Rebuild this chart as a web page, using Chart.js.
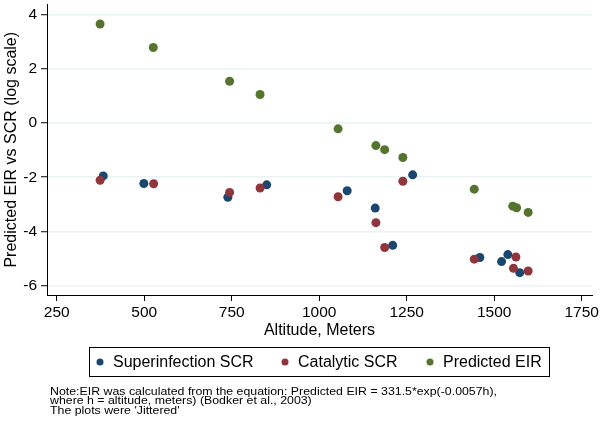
<!doctype html>
<html>

<head>
	<title>Predicted EIR vs SCR by altitude</title>
	<script src="https://cdn.jsdelivr.net/npm/chart.js@4.4.1/dist/chart.umd.min.js"></script>
	<style>
	body { margin: 0; background: #fff; }
	canvas { display: block; }
	</style>
</head>

<body>
	<canvas id="canvas" width="600" height="423"></canvas>
	<script>
		// altitude (m) and log-scale values
		const superAlt = [383, 499, 739, 850, 1080, 1160, 1210, 1267, 1459, 1521, 1539, 1573];
		const superVal = [-1.95, -2.23, -2.74, -2.28, -2.50, -3.14, -4.52, -1.91, -4.97, -5.12, -4.86, -5.53];

		const catAlt = [374, 527, 744, 831, 1054, 1162, 1187, 1239, 1443, 1555, 1562, 1597];
		const catVal = [-2.11, -2.24, -2.56, -2.40, -2.72, -3.68, -4.60, -2.15, -5.03, -5.37, -4.95, -5.47];

		const eirAlt = [374, 526, 744, 831, 1054, 1162, 1187, 1239, 1443, 1553, 1564, 1597];
		const eirVal = [3.67, 2.80, 1.55, 1.06, -0.21, -0.83, -0.98, -1.27, -2.44, -3.07, -3.13, -3.30];

		const xTicks = [250, 500, 750, 1000, 1250, 1500, 1750];
		const yTicks = [-6, -4, -2, 0, 2, 4];

		const seriesNames = ['Superinfection SCR', 'Catalytic SCR', 'Predicted EIR'];
		const seriesColors = ['#1a476f', '#90353b', '#55752f'];

		const notes = [
			"Note:EIR was calculated from the equation: Predicted EIR = 331.5*exp(-0.0057h),",
			"where h = altitude, meters) (Bodker et al., 2003)",
			"The plots were 'Jittered'"
		];

		function toPoints(xs, ys) {
			return xs.map((x, i) => ({ x: x, y: ys[i] }));
		}

		const FONT = "'Liberation Sans', Arial, Helvetica, sans-serif";

		// stata-like boxed legend plus the note under it
		const legendNotes = {
			id: 'legendNotes',
			afterDraw(chart) {
				const ctx = chart.ctx;
				ctx.save();
				ctx.strokeStyle = '#000';
				ctx.lineWidth = 1;
				ctx.strokeRect(89.5, 347.5, 460, 29);

				const dotX = [100, 285, 430];
				ctx.font = '16px ' + FONT;
				ctx.textBaseline = 'middle';
				ctx.textAlign = 'left';
				chart.data.datasets.forEach((ds, i) => {
					ctx.fillStyle = ds.backgroundColor;
					ctx.beginPath();
					ctx.arc(dotX[i], 362, 3.5, 0, Math.PI * 2);
					ctx.fill();
					ctx.fillStyle = '#000';
					ctx.fillText(ds.label, dotX[i] + 13, 362.5);
				});

				ctx.font = '11px ' + FONT;
				const sx = 447 / ctx.measureText(notes[0]).width;
				notes.forEach((line, i) => {
					ctx.save();
					ctx.translate(50, 392 + i * 9.3);
					ctx.scale(sx, 1);
					ctx.fillText(line, 0, 0);
					ctx.restore();
				});
				ctx.restore();
			}
		};

		const ctx = document.getElementById('canvas').getContext('2d');
		window.myChart = new Chart(ctx, {
			type: 'scatter',
			data: {
				datasets: [
					{ label: seriesNames[0], data: toPoints(superAlt, superVal), backgroundColor: seriesColors[0], borderColor: seriesColors[0], order: 3 },
					{ label: seriesNames[1], data: toPoints(catAlt, catVal), backgroundColor: seriesColors[1], borderColor: seriesColors[1], order: 2 },
					{ label: seriesNames[2], data: toPoints(eirAlt, eirVal), backgroundColor: seriesColors[2], borderColor: seriesColors[2], order: 1 }
				]
			},
			options: {
				responsive: false,
				animation: false,
				devicePixelRatio: 1,
				layout: { padding: { top: 1, left: 0, right: 8, bottom: 82 } },
				elements: { point: { radius: 4.5, borderWidth: 0, pointStyle: 'circle' } },
				plugins: {
					legend: { display: false },
					tooltip: { enabled: false }
				},
				scales: {
					x: {
						type: 'linear',
						min: 222.3,
						max: 1779.4,
						afterBuildTicks: s => { s.ticks = xTicks.map(v => ({ value: v })); },
						afterFit: s => { s.height = 46; s.paddingLeft = 0; s.paddingRight = 0; },
						grid: { drawOnChartArea: false, tickLength: 6, tickColor: '#000' },
						border: { display: true, color: '#000', width: 1 },
						ticks: { padding: 2, color: '#000', font: { size: 15.5, family: FONT }, maxRotation: 0, callback: v => String(v) },
						title: { display: true, text: 'Altitude, Meters', color: '#000', font: { size: 16, family: FONT }, padding: { top: 0, bottom: 1 } }
					},
					y: {
						min: -6.356,
						max: 4.39,
						afterBuildTicks: s => { s.ticks = yTicks.map(v => ({ value: v })); },
						afterFit: s => { s.width = 47; s.paddingTop = 0; s.paddingBottom = 0; },
						grid: { color: '#eaf2f3', lineWidth: 1.5, tickLength: 6, tickColor: '#000', tickWidth: 1 },
						border: { display: true, color: '#000', width: 1 },
						ticks: { padding: 4, color: '#000', font: { size: 15.5, family: FONT }, callback: v => String(v) },
						title: { display: true, text: 'Predicted EIR vs SCR (log scale)', color: '#000', font: { size: 16, family: FONT }, padding: { top: 2, bottom: 0 } }
					}
				}
			},
			plugins: [legendNotes]
		});
	</script>
</body>

</html>
